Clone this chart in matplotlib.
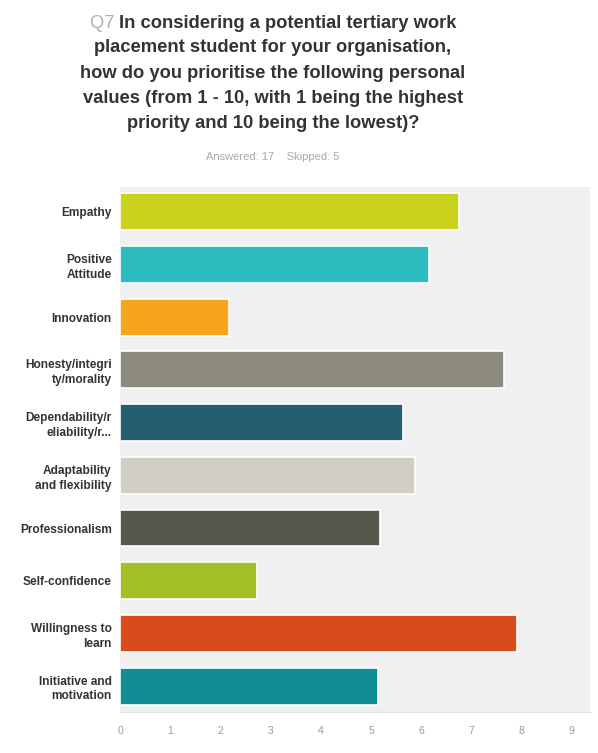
import matplotlib
matplotlib.use("Agg")
import matplotlib.pyplot as plt

plt.rcParams['font.family'] = ['Liberation Sans', 'DejaVu Sans']

# average priority score per personal value (top to bottom)
labels = ['Empathy', 'Positive\nAttitude', 'Innovation', 'Honesty/integri\nty/morality',
          'Dependability/r\neliability/r...', 'Adaptability\nand flexibility', 'Professionalism',
          'Self-confidence', 'Willingness to\nlearn', 'Initiative and\nmotivation']
scores = [6.75, 6.15, 2.17, 7.65, 5.63, 5.88, 5.18, 2.72, 7.91, 5.14]
colors = ['#c9d21c', '#2cbcbf', '#f6a51d', '#8c8b7e', '#245e6f',
          '#d1cec3', '#56584e', '#a3c126', '#d84c1b', '#128d94']
xticks = list(range(10))

fig = plt.figure(figsize=(5.98, 7.53), dpi=100)
fig.patch.set_facecolor('white')

ax = fig.add_axes([120 / 598, 1 - 712 / 753, 470 / 598, 525 / 753])
ax.set_facecolor('#f0f0f0')

ypos = list(range(len(labels)))
ax.barh(ypos, scores, height=0.70, color=colors, edgecolor='white', linewidth=1.2, zorder=3)

ax.set_xlim(0, 9.36)
ax.set_ylim(9.49, -0.47)
ax.set_yticks(ypos)
ax.set_yticklabels(labels, fontsize=8.6, fontweight='bold', color='#333333', linespacing=1.3)
ax.set_xticks(xticks)
ax.set_xticklabels([str(t) for t in xticks], fontsize=7.5, color='#999999')
ax.tick_params(axis='both', length=0)
ax.tick_params(axis='y', pad=6)
ax.tick_params(axis='x', pad=10)
for side in ['top', 'right', 'left']:
    ax.spines[side].set_visible(False)
ax.spines['bottom'].set_color('#e2e2e2')
ax.spines['bottom'].set_linewidth(0.8)

# title block, with the question number in light grey
cx = 273 / 598
title_lines = ['placement student for your organisation,',
               'how do you prioritise the following personal',
               'values (from 1 - 10, with 1 being the highest',
               'priority and 10 being the lowest)?']
tsize = 13.2
first = 'In considering a potential tertiary work'
renderer = fig.canvas.get_renderer()
full = fig.text(cx, 1 - 23 / 753, 'Q7 ' + first, ha='center', va='center',
                fontsize=tsize, fontweight='bold', color='#333333')
bb = full.get_window_extent(renderer)
full.remove()
q = fig.text(bb.x0 / fig.bbox.width, 1 - 23 / 753, 'Q7 ', ha='left', va='center',
             fontsize=tsize, color='#b0b0b0')
qb = q.get_window_extent(renderer)
fig.text(qb.x1 / fig.bbox.width, 1 - 23 / 753, first, ha='left', va='center',
         fontsize=tsize, fontweight='bold', color='#333333')
for i, line in enumerate(title_lines):
    fig.text(cx, 1 - (48 + 25.3 * i) / 753, line, ha='center', va='center',
             fontsize=tsize, fontweight='bold', color='#333333')

fig.text(cx, 1 - 157 / 753, 'Answered: 17    Skipped: 5', ha='center', va='center',
         fontsize=8, color='#a8a8a8')

fig.savefig('out.png', dpi=100, facecolor='white')
